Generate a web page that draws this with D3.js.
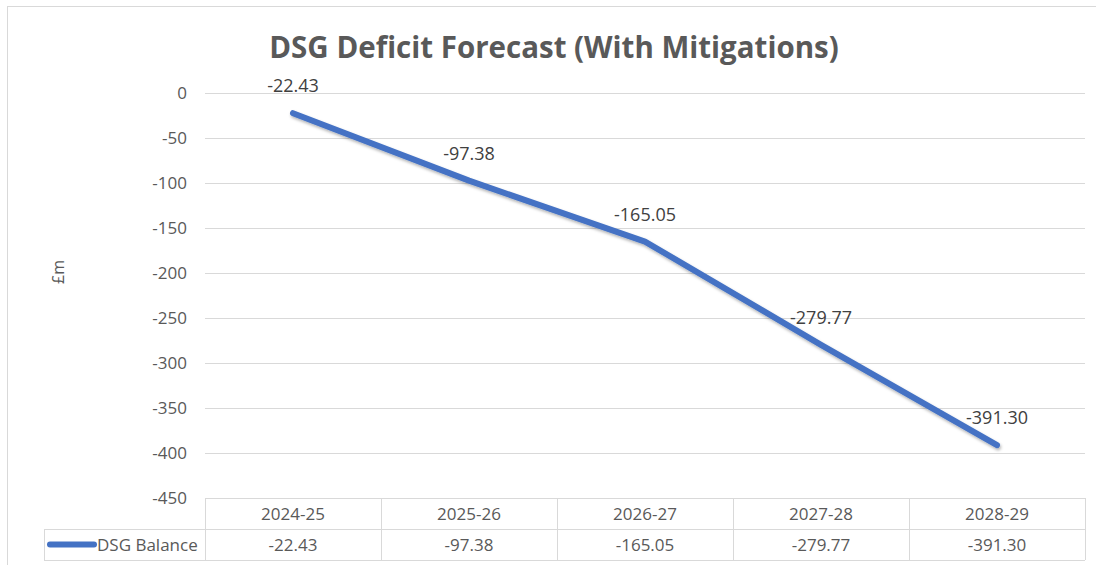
<!DOCTYPE html>
<html>
<head>
<meta charset="utf-8">
<script src="https://cdn.jsdelivr.net/npm/d3@7"></script>
<style>
  body { margin: 0; background: #fff; }
  text { font-family: "Open Sans", "Noto Sans", sans-serif; fill: #595959; }
</style>
</head>
<body>
<div id="viz"></div>
<script>
// values
var years = ["2024-25", "2025-26", "2026-27", "2027-28", "2028-29"];
var balance = [-22.43, -97.38, -165.05, -279.77, -391.30];
var yTicks = [0, -50, -100, -150, -200, -250, -300, -350, -400, -450];
var seriesName = "DSG Balance";

var W = 1096, H = 565;
var plotLeft = 205, plotRight = 1085, plotTop = 93, plotBottom = 498;
var fs = "17px";

var svg = d3.select("#viz").append("svg").attr("width", W).attr("height", H);

var defs = svg.append("defs");
var f = defs.append("filter").attr("id", "shadow").attr("x", "-10%").attr("y", "-10%").attr("width", "120%").attr("height", "130%");
f.append("feDropShadow").attr("dx", 1).attr("dy", 2).attr("stdDeviation", 1.5)
  .attr("flood-color", "#000").attr("flood-opacity", 0.3);

// chart border
svg.append("rect").attr("x", 7.5).attr("y", 6.5).attr("width", W).attr("height", H)
  .attr("fill", "none").attr("stroke", "#d9d9d9");

var x = d3.scaleBand().domain(years).range([plotLeft, plotRight]);
var y = d3.scaleLinear().domain([0, -450]).range([plotTop, plotBottom]);

// gridlines
svg.append("g").selectAll("line").data(yTicks.slice(0, -1)).enter().append("line")
  .attr("x1", plotLeft).attr("x2", plotRight)
  .attr("y1", function(d){ return Math.round(y(d)) + 0.5; })
  .attr("y2", function(d){ return Math.round(y(d)) + 0.5; })
  .attr("stroke", "#d9d9d9").attr("stroke-width", 1);

// y tick labels
svg.append("g").selectAll("text").data(yTicks).enter().append("text")
  .attr("x", 187).attr("y", function(d){ return y(d); })
  .attr("dy", "0.35em").attr("text-anchor", "end")
  .style("font-size", fs)
  .text(function(d){ return d; });

// axis title
svg.append("text").attr("transform", "translate(64,272) rotate(-90)")
  .attr("text-anchor", "middle").style("font-size", "16px").text("£m");

// title
svg.append("text").attr("x", 554).attr("y", 58).attr("text-anchor", "middle")
  .style("font-size", "29.5px").style("font-weight", "bold")
  .text("DSG Deficit Forecast (With Mitigations)");

// line
var line = d3.line()
  .x(function(d, i){ return x(years[i]) + x.bandwidth() / 2; })
  .y(function(d){ return y(d); });

svg.append("path").datum(balance).attr("d", line)
  .attr("fill", "none").attr("stroke", "#4472c4").attr("stroke-width", 6)
  .attr("stroke-linecap", "round").attr("stroke-linejoin", "round")
  .attr("filter", "url(#shadow)");

// data labels
svg.append("g").selectAll("text").data(balance).enter().append("text")
  .attr("x", function(d, i){ return x(years[i]) + x.bandwidth() / 2; })
  .attr("y", function(d){ return y(d) - 27; })
  .attr("dy", "0.35em").attr("text-anchor", "middle")
  .style("font-size", "18px").style("fill", "#404040")
  .text(function(d){ return d.toFixed(2); });

// data table
var row1 = plotBottom, row2 = 529, row3 = 560, tableLeft = 44;
var tbl = svg.append("g").attr("stroke", "#d9d9d9").attr("fill", "none");
tbl.append("line").attr("x1", plotLeft).attr("x2", plotRight).attr("y1", row1 + 0.5).attr("y2", row1 + 0.5);
tbl.append("line").attr("x1", tableLeft).attr("x2", plotRight).attr("y1", row2 + 0.5).attr("y2", row2 + 0.5);
tbl.append("line").attr("x1", tableLeft).attr("x2", plotRight).attr("y1", row3 + 0.5).attr("y2", row3 + 0.5);
tbl.append("line").attr("x1", tableLeft + 0.5).attr("x2", tableLeft + 0.5).attr("y1", row2).attr("y2", row3);
tbl.selectAll("line.v").data(years.concat(["end"])).enter().append("line")
  .attr("x1", function(d, i){ return Math.round(plotLeft + i * x.bandwidth()) + 0.5; })
  .attr("x2", function(d, i){ return Math.round(plotLeft + i * x.bandwidth()) + 0.5; })
  .attr("y1", row1).attr("y2", row3);

svg.append("g").selectAll("text").data(years).enter().append("text")
  .attr("x", function(d){ return x(d) + x.bandwidth() / 2; })
  .attr("y", (row1 + row2) / 2 + 1).attr("dy", "0.35em").attr("text-anchor", "middle")
  .style("font-size", fs).text(function(d){ return d; });

svg.append("g").selectAll("text").data(balance).enter().append("text")
  .attr("x", function(d, i){ return x(years[i]) + x.bandwidth() / 2; })
  .attr("y", (row2 + row3) / 2 + 1).attr("dy", "0.35em").attr("text-anchor", "middle")
  .style("font-size", fs).text(function(d){ return d.toFixed(2); });

// legend key in table
svg.append("line").attr("x1", 50).attr("x2", 94).attr("y1", 544.5).attr("y2", 544.5)
  .attr("stroke", "#4472c4").attr("stroke-width", 6).attr("stroke-linecap", "round");
svg.append("text").attr("x", 97).attr("y", 545).attr("dy", "0.35em")
  .style("font-size", fs).text(seriesName);
</script>
</body>
</html>
